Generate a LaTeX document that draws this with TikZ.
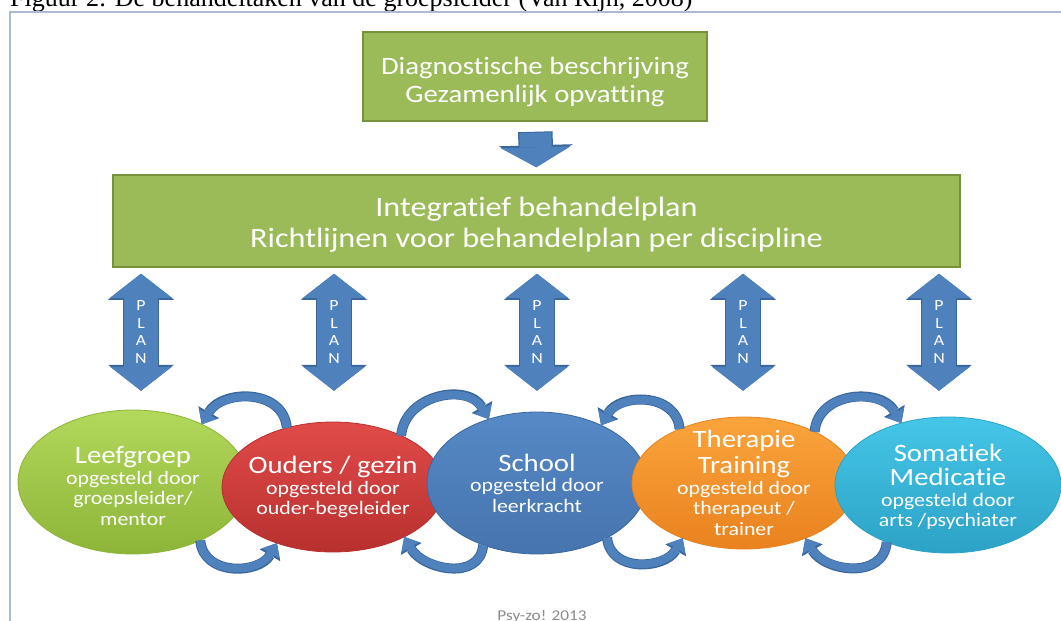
\documentclass[tikz,border=0pt]{standalone}
\usepackage{fontspec}
\setmainfont{Carlito}[FakeStretch=1.15, Ligatures=NoCommon]
\newfontfamily\capfont{Liberation Serif}
\usepackage{tikz}
\usetikzlibrary{shapes.geometric}
\usetikzlibrary{arrows.meta}
\usetikzlibrary{calc}
\usetikzlibrary{positioning}

\definecolor{boxgreen}{HTML}{9BBB59}
\definecolor{boxedge}{HTML}{76923C}
\definecolor{planblue}{HTML}{4F81BD}
\definecolor{planedge}{HTML}{3A679C}
\definecolor{framegrey}{HTML}{A9BCD0}
\definecolor{leeftop}{HTML}{B2D85C}
\definecolor{leefbot}{HTML}{8DB538}
\definecolor{ouderstop}{HTML}{E04B49}
\definecolor{oudersbot}{HTML}{B8302E}
\definecolor{schooltop}{HTML}{5689C6}
\definecolor{schoolbot}{HTML}{4674AE}
\definecolor{therapietop}{HTML}{FAA43C}
\definecolor{therapiebot}{HTML}{E9821F}
\definecolor{somatiektop}{HTML}{45C6E8}
\definecolor{somatiekbot}{HTML}{2CA2C6}
\definecolor{creditgrey}{HTML}{8C8C8C}

\newcommand\bubbletitle[1]{{\fontsize{25}{26}\selectfont #1}}

\begin{document}
\begin{tikzpicture}[x=1pt, y=1pt,
  greenbox/.style={draw=boxedge, line width=1.5pt, fill=boxgreen, inner sep=0pt},
  boxtext/.style={text=white, align=center, inner sep=0pt},
  bubble/.style={ellipse, inner sep=0pt, outer sep=0pt, line width=.8pt},
  bubbletext/.style={text=white, align=center, inner sep=0pt, font=\fontsize{19}{20.5}\selectfont},
  plantext/.style={text=white, align=center, inner sep=0pt, font=\fontsize{15.5}{17.5}\selectfont},
  downarrow/.style={draw=planblue, line width=32pt, shorten <=11pt, shorten >=7pt,
    -{Triangle[width=70pt,length=20pt,line width=0pt]},
    preaction={draw=planedge, line width=34.5pt, shorten <=10pt,
      -{Triangle[width=74pt,length=22pt,line width=0pt]}}},
  planarrow/.style={draw=planblue, line width=34pt,
    {Triangle[width=62pt,length=24pt,line width=0pt]}-{Triangle[width=62pt,length=24pt,line width=0pt]},
    preaction={draw=planedge, line width=36.5pt,
      {Triangle[width=66pt,length=26pt,line width=0pt]}-{Triangle[width=66pt,length=26pt,line width=0pt]}}},
  loopy/.style={draw=planblue, line width=8pt, looseness=1.2,
    -{Triangle[width=20pt,length=12pt,line width=0pt]},
    preaction={draw=planedge, line width=10pt,
      -{Triangle[width=24pt,length=14pt,line width=0pt]}}}]
\useasboundingbox (0,0) rectangle (1061,-621);
\fill[white] (0,0) rectangle (1061,-621);
% caption and frame
\node[anchor=base west, inner sep=0pt, font=\capfont\fontsize{26}{30}\selectfont] (caption) at (10,-6)
  {Figuur 2: De behandeltaken van de groepsleider (Van Rijn, 2008)};
\draw[framegrey, line width=1.5pt] (10,-621) -- (10,-12) -- (1061,-12);
% green boxes
\node[greenbox, minimum width=344pt, minimum height=89pt] (diag) at (535,-76.5) {};
\node[boxtext, font=\fontsize{25}{28}\selectfont] (diag-t) at ([yshift=-5pt]diag.center)
  {Diagnostische beschrijving\\Gezamenlijk opvatting};
\node[greenbox, minimum width=847pt, minimum height=92pt] (plan) at (536.5,-221) {};
\node[boxtext, font=\fontsize{28}{31}\selectfont] (plan-t) at ([yshift=-4pt]plan.center)
  {Integratief behandelplan\\Richtlijnen voor behandelplan per discipline};
\draw[downarrow] (diag.south) -- (plan.north);
% disciplines
\node[bubble, draw=leefbot, top color=leeftop, bottom color=leefbot, minimum width=230pt, minimum height=144pt] (leef) at (133,-482) {};
\node[bubbletext] (leef-t) at ([yshift=-4pt]leef.center) {\bubbletitle{Leefgroep}\\opgesteld door\\groepsleider/\\mentor};
\node[bubble, draw=oudersbot, top color=ouderstop, bottom color=oudersbot, minimum width=222pt, minimum height=130pt] (ouders) at (333,-487) {};
\node[bubbletext] (ouders-t) at (ouders) {\bubbletitle{Ouders / gezin}\\opgesteld door\\ouder-begeleider};
\node[bubble, draw=planedge, top color=schooltop, bottom color=schoolbot, minimum width=220pt, minimum height=142pt] (school) at (537,-483) {};
\node[bubbletext] (school-t) at (school) {\bubbletitle{School}\\opgesteld door\\leerkracht};
\node[bubble, draw=therapiebot, top color=therapietop, bottom color=therapiebot, minimum width=224pt, minimum height=132pt] (therapie) at (744,-483) {};
\node[bubbletext] (therapie-t) at (therapie) {\bubbletitle{Therapie}\\[4pt]\bubbletitle{Training}\\opgesteld door\\therapeut /\\trainer};
\node[bubble, draw=somatiekbot, top color=somatiektop, bottom color=somatiekbot, minimum width=226pt, minimum height=136pt] (somatiek) at (948,-485) {};
\node[bubbletext] (somatiek-t) at ([yshift=-2pt]somatiek.center) {\bubbletitle{Somatiek}\\[4pt]\bubbletitle{Medicatie}\\opgesteld door\\arts /psychiater};
% plan arrows
\foreach \n/\dx in {leef/8, ouders/1, school/0, therapie/-1, somatiek/-9}
  \draw[planarrow] ($(plan.south -| \n.north)+(\dx,-6)$) -- ($(plan.south -| \n.north)+(\dx,-123)$)
    node[midway, plantext] {P\\L\\A\\N};
% loops between the disciplines
\draw[loopy] (ouders.128) to[out=95,in=60] (leef.40);
\draw[loopy] (ouders.37) to[out=85,in=120] (school.127);
\draw[loopy] (therapie.140) to[out=95,in=60] (school.42);
\draw[loopy] (therapie.36) to[out=85,in=120] (somatiek.127);
\draw[loopy] (leef.-41) to[out=-85,in=-120] (ouders.-135);
\draw[loopy] (school.-131) to[out=-95,in=-60] (ouders.-35);
\draw[loopy] (school.-38) to[out=-85,in=-120] (therapie.-138);
\draw[loopy] (somatiek.-137) to[out=-95,in=-60] (therapie.-42);
% credit
\node[anchor=base, inner sep=0pt, text=creditgrey, font=\fontsize{15}{17}\selectfont] (credit) at (542,-620) {Psy-zo! 2013};
\end{tikzpicture}
\end{document}
